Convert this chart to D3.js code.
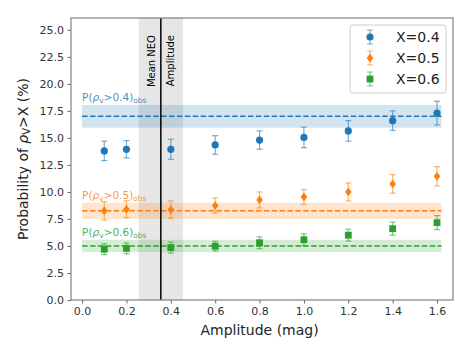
<!DOCTYPE html>
<html>
<head>
<meta charset="utf-8">
<script src="https://cdn.jsdelivr.net/npm/d3@7"></script>
<style>
  body { margin: 0; background: #fff; }
  text { font-family: "DejaVu Sans", sans-serif; }
</style>
</head>
<body>
<svg id="chart" width="471" height="353"></svg>
<script>
const amp = [0.1, 0.2, 0.4, 0.6, 0.8, 1.0, 1.2, 1.4, 1.6];
const p04 = [13.8, 13.95, 13.95, 14.35, 14.8, 15.05, 15.65, 16.6, 17.3];
const e04 = [0.9, 0.8, 0.93, 0.86, 0.85, 0.95, 0.95, 0.9, 1.1];
const p05 = [8.25, 8.4, 8.37, 8.74, 9.26, 9.54, 10.0, 10.74, 11.45];
const e05 = [0.85, 0.78, 0.8, 0.7, 0.74, 0.68, 0.83, 0.86, 0.89];
const p06 = [4.7, 4.78, 4.85, 4.98, 5.3, 5.58, 6.0, 6.6, 7.16];
const e06 = [0.5, 0.5, 0.5, 0.45, 0.55, 0.55, 0.55, 0.6, 0.65];
const obsMean = [17.0, 8.25, 5.0];
const obsErr = [1.05, 0.75, 0.57];
const labels = ["X=0.4", "X=0.5", "X=0.6"];
const obsLevels = ["0.4", "0.5", "0.6"];
const colors = ["#1f77b4", "#ff7f0e", "#2ca02c"];
const neoMean = 0.355, neoErr = 0.1;
const xTicks = [0, 0.2, 0.4, 0.6, 0.8, 1.0, 1.2, 1.4, 1.6];
const yTicks = [0, 2.5, 5, 7.5, 10, 12.5, 15, 17.5, 20, 22.5, 25];

const svg = d3.select("#chart");
const margin = { top: 18, right: 18, bottom: 53, left: 71 };
const width = 471 - margin.left - margin.right;
const height = 353 - margin.top - margin.bottom;

const x = d3.scaleLinear().domain([-0.05, 1.672]).range([0, width]);
const y = d3.scaleLinear().domain([0, 26.1]).range([height, 0]);

const g = svg.append("g").attr("transform", `translate(${margin.left},${margin.top})`);

// vertical NEO band
g.append("rect")
  .attr("x", x(neoMean - neoErr)).attr("width", x(neoMean + neoErr) - x(neoMean - neoErr))
  .attr("y", 0).attr("height", height)
  .attr("fill", "#808080").attr("fill-opacity", 0.2);

// horizontal observed bands
const series = [
  { vals: p04, errs: e04 },
  { vals: p05, errs: e05 },
  { vals: p06, errs: e06 }
];
obsMean.forEach((m, i) => {
  g.append("rect")
    .attr("x", x(0)).attr("width", x(1.62) - x(0))
    .attr("y", y(m + obsErr[i])).attr("height", y(m - obsErr[i]) - y(m + obsErr[i]))
    .attr("fill", colors[i]).attr("fill-opacity", 0.2);
  g.append("line")
    .attr("x1", x(0)).attr("x2", x(1.62))
    .attr("y1", y(m)).attr("y2", y(m))
    .attr("stroke", colors[i]).attr("stroke-width", 1.5)
    .attr("stroke-dasharray", "5.5,2.4");
  const t = g.append("text")
    .attr("x", x(0)).attr("y", y(m + obsErr[i]) - 4)
    .attr("fill", colors[i]).attr("fill-opacity", 0.85).attr("font-size", 10.5);
  t.append("tspan").text("P(");
  t.append("tspan").attr("font-style", "italic").text("ρ");
  t.append("tspan").attr("font-size", 7.5).attr("dy", 2).text("v");
  t.append("tspan").attr("dy", -2).text(">" + obsLevels[i] + ")");
  t.append("tspan").attr("font-size", 7.5).attr("dy", 2).text("obs");
});

// vertical mean line
g.append("line")
  .attr("x1", x(neoMean)).attr("x2", x(neoMean))
  .attr("y1", 0).attr("y2", height)
  .attr("stroke", "#000").attr("stroke-width", 1.5);

g.append("text")
  .attr("transform", `translate(${x(neoMean) - 5.5},${17}) rotate(-90)`)
  .attr("text-anchor", "end").attr("font-size", 10).attr("fill", "#000")
  .text("Mean NEO");
g.append("text")
  .attr("transform", `translate(${x(neoMean) + 13},${17}) rotate(-90)`)
  .attr("text-anchor", "end").attr("font-size", 10).attr("fill", "#000")
  .text("Amplitude");

// markers
function drawMarker(sel, i) {
  if (i === 0) {
    sel.append("circle").attr("r", 3.6).attr("fill", colors[i]);
  } else if (i === 1) {
    sel.append("path").attr("d", "M0,-4.4L3.3,0L0,4.4L-3.3,0Z").attr("fill", colors[i]);
  } else {
    sel.append("rect").attr("x", -3.4).attr("y", -3.4)
      .attr("width", 6.8).attr("height", 6.8).attr("fill", colors[i]);
  }
}

series.forEach((s, i) => {
  const sg = g.append("g");
  const pts = sg.selectAll("g.pt").data(amp.map((a, k) => ({ a, v: s.vals[k], e: s.errs[k] })))
    .enter().append("g").attr("class", "pt");
  pts.append("line")
    .attr("x1", d => x(d.a)).attr("x2", d => x(d.a))
    .attr("y1", d => y(d.v - d.e)).attr("y2", d => y(d.v + d.e))
    .attr("stroke", colors[i]).attr("stroke-opacity", 0.6).attr("stroke-width", 1.2);
  [-1, 1].forEach(sgn => {
    pts.append("line")
      .attr("x1", d => x(d.a) - 3).attr("x2", d => x(d.a) + 3)
      .attr("y1", d => y(d.v + sgn * d.e)).attr("y2", d => y(d.v + sgn * d.e))
      .attr("stroke", colors[i]).attr("stroke-opacity", 0.6).attr("stroke-width", 1.2);
  });
  pts.each(function (d) {
    const m = d3.select(this).append("g").attr("transform", `translate(${x(d.a)},${y(d.v)})`);
    drawMarker(m, i);
  });
});

// axes
const xAxis = g.append("g").attr("transform", `translate(0,${height})`)
  .call(d3.axisBottom(x).tickValues(xTicks).tickFormat(d3.format(".1f")).tickSize(3.5).tickPadding(3.5));
const yAxis = g.append("g")
  .call(d3.axisLeft(y).tickValues(yTicks).tickFormat(d3.format(".1f")).tickSize(3.5).tickPadding(3.5));
[xAxis, yAxis].forEach(a => {
  a.selectAll("text").attr("font-size", 11).attr("fill", "#333").attr("font-family", "DejaVu Sans");
  a.selectAll("line").attr("stroke", "#666");
  a.select(".domain").remove();
});

// spines
g.append("rect").attr("width", width).attr("height", height)
  .attr("fill", "none").attr("stroke", "#808080").attr("stroke-width", 1.2);

// axis labels
svg.append("text")
  .attr("x", margin.left + x(0.8)).attr("y", 335)
  .attr("text-anchor", "middle").attr("font-size", 14).attr("fill", "#222")
  .text("Amplitude (mag)");
const yl = svg.append("text")
  .attr("transform", `translate(28,${margin.top + height / 2}) rotate(-90)`)
  .attr("text-anchor", "middle").attr("font-size", 14).attr("fill", "#222");
yl.append("tspan").text("Probability of ");
yl.append("tspan").attr("font-style", "italic").text("ρ");
yl.append("tspan").attr("font-size", 10).attr("dy", 2).text("V");
yl.append("tspan").attr("dy", -2).text(">X (%)");

// legend
const lg = g.append("g").attr("transform", `translate(${350 - margin.left},${25 - margin.top})`);
lg.append("rect").attr("width", 96).attr("height", 68).attr("rx", 3)
  .attr("fill", "#fff").attr("fill-opacity", 0.8).attr("stroke", "#ccc");
labels.forEach((l, i) => {
  const cy = 12 + i * 21;
  const row = lg.append("g").attr("transform", `translate(20,${cy})`);
  row.append("line").attr("y1", -7).attr("y2", 7).attr("stroke", colors[i]).attr("stroke-opacity", 0.6).attr("stroke-width", 1.2);
  row.append("line").attr("x1", -3).attr("x2", 3).attr("y1", -7).attr("y2", -7).attr("stroke", colors[i]).attr("stroke-opacity", 0.6);
  row.append("line").attr("x1", -3).attr("x2", 3).attr("y1", 7).attr("y2", 7).attr("stroke", colors[i]).attr("stroke-opacity", 0.6);
  drawMarker(row, i);
  lg.append("text").attr("x", 46).attr("y", cy + 5)
    .attr("font-size", 14).attr("fill", "#222").text(l);
});
</script>
</body>
</html>
